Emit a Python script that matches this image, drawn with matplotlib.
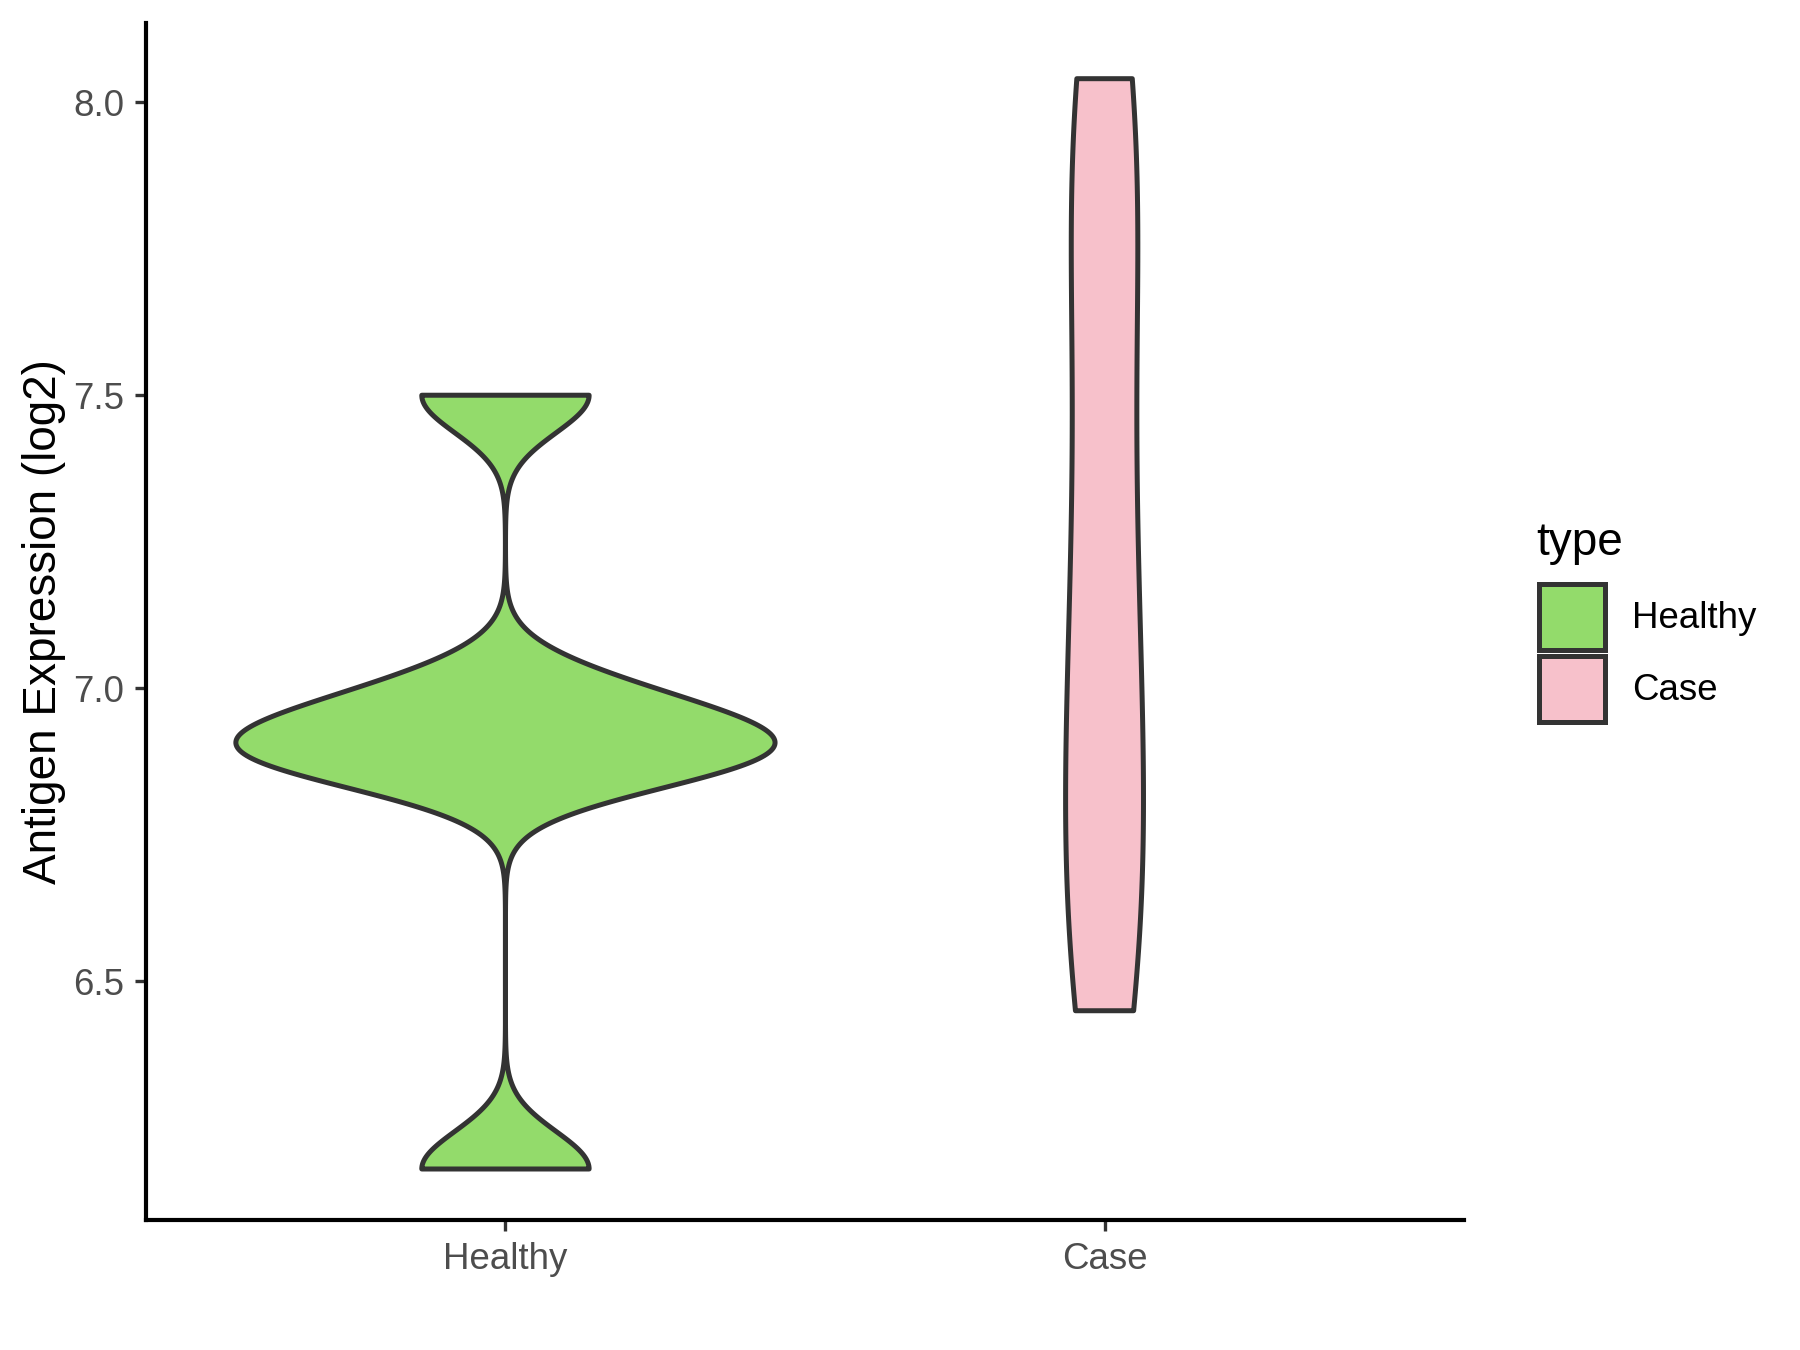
import matplotlib.pyplot as plt
import numpy as np
from matplotlib.patches import Rectangle

plt.rcParams['font.family'] = ['Liberation Sans', 'DejaVu Sans']

groups = ['Healthy', 'Case']
colors = ['#93DB6B', '#F7C1CB']

# expression values per group (log2)
healthy_vals = [6.18, 6.87, 6.89, 6.92, 6.99, 7.50]
case_vals = [6.45, 6.49, 6.60, 6.72, 6.84, 6.97, 7.10, 7.25, 7.42, 7.60, 7.78, 7.93, 8.02, 8.04]

bandwidths = [0.064, 0.30]
max_widths = [0.9, 0.13]


def kde(vals, bw, grid):
    vals = np.asarray(vals)
    d = (grid[:, None] - vals[None, :]) / bw
    return np.exp(-0.5 * d ** 2).sum(axis=1) / (len(vals) * bw * np.sqrt(2 * np.pi))


fig = plt.figure(figsize=(6, 4.5), dpi=300)
ax = fig.add_axes([146 / 1800, 1 - 1220 / 1350, (1464 - 146) / 1800, (1220 - 23) / 1350])

for i, (vals, bw, mw, col) in enumerate(zip([healthy_vals, case_vals], bandwidths, max_widths, colors)):
    pos = i + 1
    grid = np.linspace(min(vals), max(vals), 512)
    dens = kde(vals, bw, grid)
    half = dens / dens.max() * mw / 2
    xs = np.concatenate([pos - half, (pos + half)[::-1]])
    ys = np.concatenate([grid, grid[::-1]])
    ax.fill(xs, ys, facecolor=col, edgecolor='#333333', linewidth=1.2, joinstyle='round', zorder=2)

ax.set_xlim(0.4, 2.6)
ax.set_ylim(6.093, 8.135)
ax.set_xticks([1, 2])
ax.set_xticklabels(groups)
ax.set_yticks([6.5, 7.0, 7.5, 8.0])
ax.set_yticklabels(['6.5', '7.0', '7.5', '8.0'])
ax.tick_params(axis='both', colors='#333333', labelcolor='#4D4D4D', labelsize=8.8,
               length=2.75, width=0.8, pad=2.5)
for side in ['top', 'right']:
    ax.spines[side].set_visible(False)
for side in ['left', 'bottom']:
    ax.spines[side].set_linewidth(1.0)
    ax.spines[side].set_color('black')
ax.set_ylabel('Antigen Expression (log2)', fontsize=11, color='black', labelpad=1.6)

# legend
fig.text(1536 / 1800, 1 - 543 / 1350, 'type', fontsize=11, va='center', ha='left')
key_tops = [584, 656]
for col, lab, top in zip(colors, groups, key_tops):
    fig.add_artist(Rectangle((1539 / 1800, 1 - (top + 66) / 1350), 66 / 1800, 66 / 1350,
                             transform=fig.transFigure, facecolor=col, edgecolor='#333333',
                             linewidth=1.2))
    fig.text(1632 / 1800, 1 - (top + 34) / 1350, lab, fontsize=8.8, va='center', ha='left')

fig.savefig('out.png', dpi=300)
